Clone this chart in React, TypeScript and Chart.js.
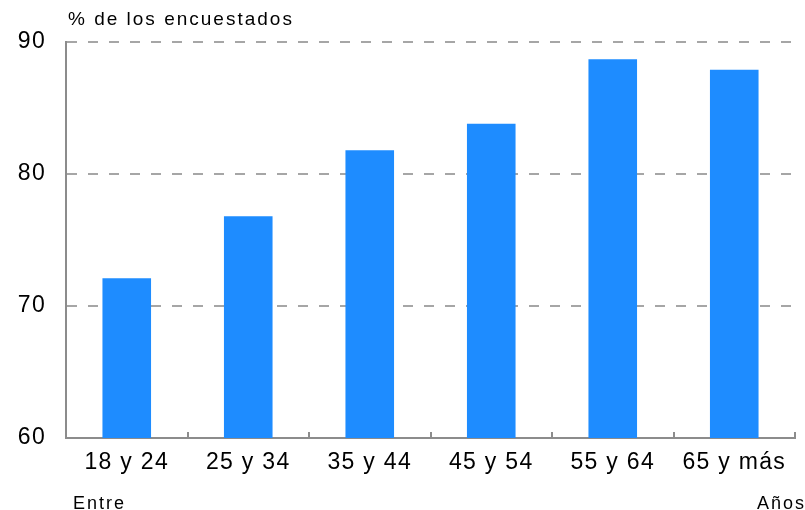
import React, { useEffect, useRef } from "react";
import { Chart, registerables } from "chart.js";

Chart.register(...registerables);

const categories = ["18 y 24", "25 y 34", "35 y 44", "45 y 54", "55 y 64", "65 y más"];
const values = [72.1, 76.8, 81.8, 83.8, 88.7, 87.9];
const yTicks = [60, 70, 80, 90];
const titleText = "% de los encuestados";
const leftNote = "Entre";
const rightNote = "Años";

const FONT = "'Liberation Sans', Arial, Helvetica, sans-serif";

export default function App() {
  const ref = useRef<HTMLCanvasElement | null>(null);

  useEffect(() => {
    if (!ref.current) return;
    const spacingPlugin = {
      id: "spacing",
      beforeUpdate(chart: any) {
        chart.ctx.letterSpacing = "1.3px";
      },
      beforeDraw(chart: any) {
        chart.ctx.letterSpacing = "1.3px";
      },
      afterDraw(chart: any) {
        const ctx = chart.ctx;
        ctx.save();
        ctx.fillStyle = "#000";
        ctx.font = `19px ${FONT}`;
        ctx.letterSpacing = "2px";
        ctx.textBaseline = "alphabetic";
        ctx.textAlign = "left";
        ctx.fillText(titleText, 68, 25);
        ctx.font = `18px ${FONT}`;
        ctx.letterSpacing = "2px";
        ctx.fillText(leftNote, 73, 509);
        ctx.textAlign = "right";
        ctx.fillText(rightNote, 806, 509);
        ctx.restore();
      },
    };

    const chart = new Chart(ref.current, {
      type: "bar",
      data: {
        labels: categories,
        datasets: [
          {
            data: values,
            backgroundColor: "#1E8CFF",
            barPercentage: 0.4,
            categoryPercentage: 1,
          },
        ],
      },
      options: {
        responsive: false,
        animation: false,
        layout: { padding: { left: 0, right: 10, top: 42, bottom: 0 } },
        plugins: { legend: { display: false }, tooltip: { enabled: false } },
        scales: {
          x: {
            offset: true,
            afterFit: (s: any) => {
              s.height = 72;
            },
            grid: {
              offset: true,
              drawOnChartArea: false,
              drawTicks: true,
              tickLength: -6,
              color: "#8c8c8c",
              lineWidth: 2,
            },
            border: { color: "#8c8c8c", width: 2 },
            ticks: {
              color: "#000",
              font: { family: FONT, size: 23 },
              padding: 17,
              maxRotation: 0,
              autoSkip: false,
            },
          },
          y: {
            min: 60,
            max: 90,
            afterFit: (s: any) => {
              s.width = 66;
            },
            afterBuildTicks: (s: any) => {
              s.ticks = yTicks.map((v) => ({ value: v }));
            },
            grid: {
              drawTicks: false,
              color: (c: any) => (c.tick && c.tick.value === 60 ? "rgba(0,0,0,0)" : "#a6a6a6"),
              lineWidth: 2,
            },
            border: { color: "#8c8c8c", width: 2, dash: [10, 11] },
            ticks: {
              color: "#000",
              font: { family: FONT, size: 23 },
              padding: 20,
            },
          },
        },
      },
      plugins: [spacingPlugin],
    } as any);
    return () => chart.destroy();
  }, []);

  return (
    <div style={{ position: "fixed", left: 0, top: 0, width: 805, height: 510, background: "#fff" }}>
      <canvas ref={ref} width={805} height={510} style={{ width: 805, height: 510 }} />
    </div>
  );
}
